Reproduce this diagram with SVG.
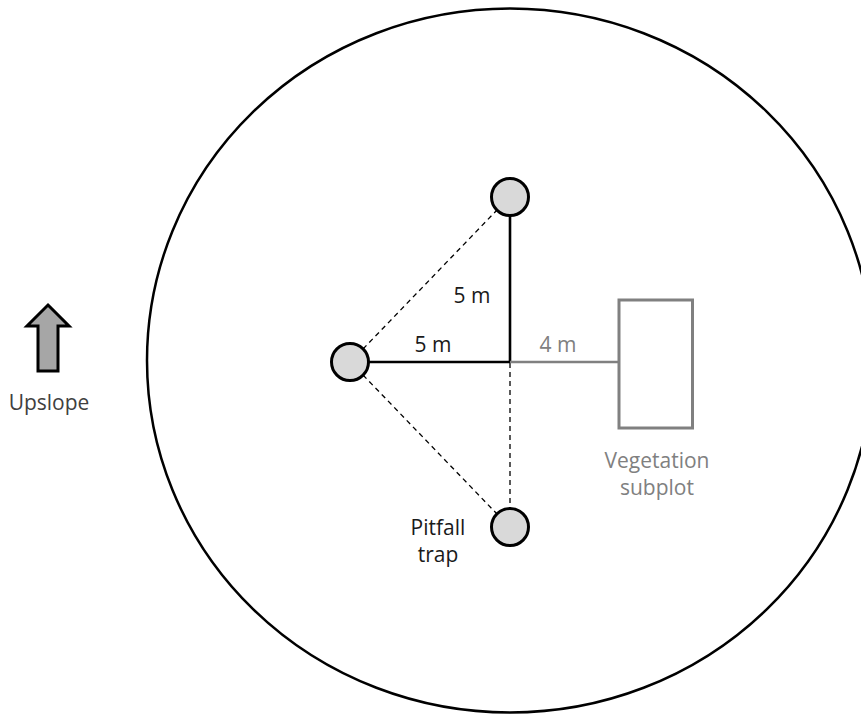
<svg xmlns="http://www.w3.org/2000/svg" width="861" height="716" viewBox="0 0 861 716">
<style>
.lbl{font-family:"Open Sans","Liberation Sans",sans-serif;font-size:21px;text-anchor:middle}
.blk{fill:#1a1a1a}
.gry{fill:#808080}
.trap{fill:#d9d9d9;stroke:#000;stroke-width:3}
.dash{stroke:#000;stroke-width:1.3;stroke-dasharray:5,4;fill:none}
.solid{stroke:#000;stroke-width:2.6;fill:none}
</style>
<rect width="861" height="716" fill="#fff"/>
<g id="plot">
<ellipse cx="510" cy="360.5" rx="363" ry="352" fill="none" stroke="#000" stroke-width="2.5"/>
</g>
<g id="connectors">
<line class="dash" x1="363" y1="349" x2="497" y2="210"/>
<line class="dash" x1="363" y1="375" x2="497" y2="514"/>
<line class="dash" x1="510" y1="363" x2="510" y2="508"/>
<line class="solid" x1="510" y1="215" x2="510" y2="363"/>
<line class="solid" x1="368" y1="362" x2="510" y2="362"/>
<line x1="510" y1="362" x2="619" y2="362" stroke="#808080" stroke-width="2.6"/>
</g>
<g id="trap-top"><circle class="trap" cx="510" cy="197" r="18.5"/></g>
<g id="trap-left"><circle class="trap" cx="350" cy="362" r="18.5"/></g>
<g id="trap-bottom"><circle class="trap" cx="510" cy="527" r="18.5"/></g>
<g id="veg-subplot">
<rect x="619" y="300" width="73.5" height="128" fill="none" stroke="#808080" stroke-width="3"/>
<text class="lbl gry" x="657" y="468">Vegetation</text>
<text class="lbl gry" x="657" y="495">subplot</text>
</g>
<g id="labels">
<text class="lbl blk" x="472" y="303">5 m</text>
<text class="lbl blk" x="433" y="352">5 m</text>
<text class="lbl gry" x="558" y="352">4 m</text>
<text class="lbl blk" x="438" y="535">Pitfall</text>
<text class="lbl blk" x="438" y="562">trap</text>
</g>
<g id="upslope">
<polygon points="48,305 69,326 58,326 58,371 38,371 38,326 27,326" fill="#a6a6a6" stroke="#000" stroke-width="3" stroke-linejoin="miter"/>
<text class="lbl" fill="#404040" x="49" y="410">Upslope</text>
</g>
</svg>
